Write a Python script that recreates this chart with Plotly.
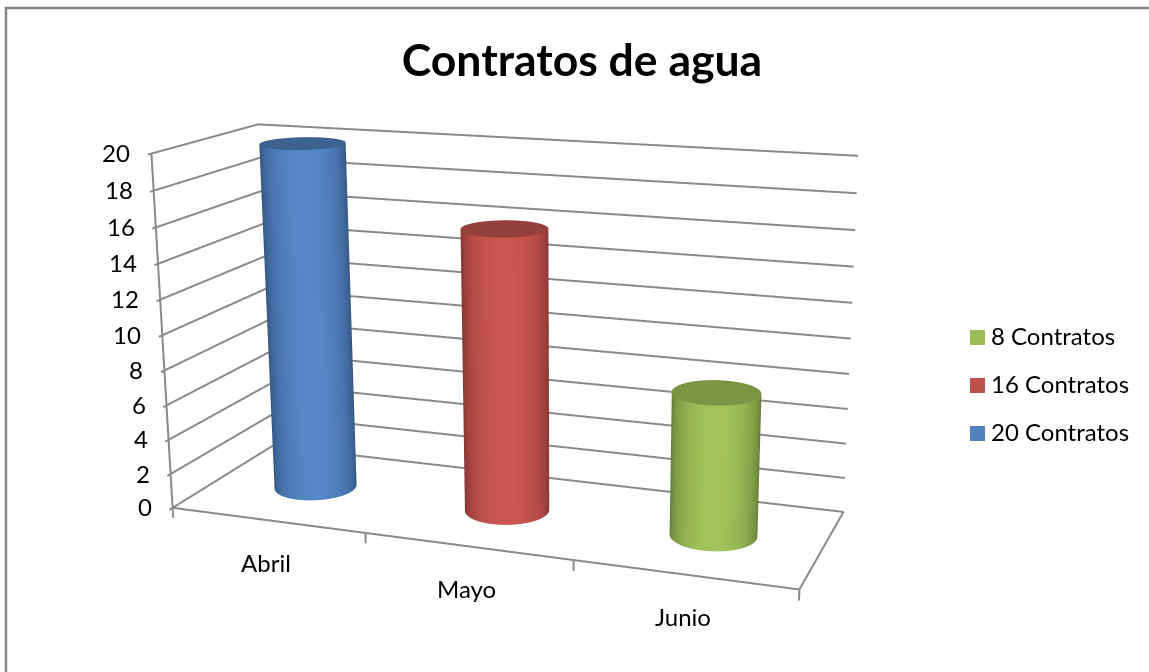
import numpy as np
import plotly.graph_objects as go

CATEGORIES = ["Abril", "Mayo", "Junio"]
VALUES = [20, 16, 8]
SERIES = ["20 Contratos", "16 Contratos", "8 Contratos"]
Z_TICKS = list(range(0, 21, 2))
W, H = 1149, 672

# camera of the 3-D scene (narrow lens like the original chart)
FOCAL = 1793.0
FOVY = 2*np.arctan((H/2)/FOCAL)
EYE = np.array([1.028, -2.642, 0.75])
CEN = np.array([0.091, 0.082, -0.011])
UP = np.array([0.11, -0.322, 1.0])
LX, LY, LZ = 1.070, 0.350, 0.6

xr, yr, zr = (-0.1, 3.1), (-0.15, 1.05), (-2.5, 21)
sx, sy, sz = LX/3, LY, LZ/20
off = np.array([(1.5-sum(xr)/2)*sx, (0.5-sum(yr)/2)*sy, (10-sum(zr)/2)*sz])
eye, cen = EYE+off, CEN+off

GRID = "#8a8a8a"
COLORS = [("#2f4d75", "#5587c9", "#3c628f"), ("#7a302e", "#cc5652", "#96403d"), ("#5b7233", "#a0c45a", "#7b9544")]
LEG = ["#4f81bd", "#c0504d", "#9bbb59"]

fig = go.Figure()
def line(xs, ys, zs):
    fig.add_trace(go.Scatter3d(x=xs, y=ys, z=zs, mode="lines", line=dict(color=GRID, width=4),
                               hoverinfo="skip", showlegend=False))
for t in Z_TICKS:
    line([0, 0, 3], [-0.03, 1, 1], [t, t, t])
line([0, 0], [0, 0], [0, 20])
line([0, 3, 3], [0, 0, 1], [0, 0, 0])
line([0, 0], [0, 1], [0, 0])
for i in range(4):
    line([i, i], [0, 0], [0, -0.6])

RX = 0.198
theta = np.linspace(0, 2*np.pi, 121)
flat = dict(ambient=1, diffuse=0, specular=0, roughness=1, fresnel=0)
for i, (cat, v, name) in enumerate(zip(CATEGORIES, VALUES, SERIES)):
    dark, bright, cap = COLORS[i]
    xc, yc = i+0.5, 0.5
    wx = (xc-1.5)*sx; wy = (yc-.5)*sy
    az = np.arctan2(EYE[1]-wy, EYE[0]-wx)
    ry = RX*sx/sy
    X = np.array([xc+RX*np.cos(theta)]*2)
    Y = np.array([yc+ry*np.sin(theta)]*2)
    Z = np.array([np.zeros_like(theta), np.full_like(theta, v)])
    S = np.clip(np.cos(theta-az), 0, 1)
    fig.add_trace(go.Surface(x=X, y=Y, z=Z, surfacecolor=np.array([S, S]), cmin=0, cmax=1,
        colorscale=[[0, dark], [1, bright]], showscale=False, hoverinfo="skip", name=name, lighting=flat))
    R = np.linspace(0, 1, 2)
    fig.add_trace(go.Surface(x=xc+RX*np.outer(R, np.cos(theta)), y=yc+ry*np.outer(R, np.sin(theta)),
        z=np.full((2, len(theta)), v), surfacecolor=np.zeros((2, len(theta))), cmin=0, cmax=1,
        colorscale=[[0, cap], [1, cap]], showscale=False, hoverinfo="skip", lighting=flat))

ann = []
FONT = "Lato"
for t in Z_TICKS:
    ann.append(dict(x=0, y=0, z=t, text=str(t), showarrow=False, xanchor="right", xshift=-19, yshift=1,
                    font=dict(family=FONT, size=24, color="#000")))
for i, c in enumerate(CATEGORIES):
    ann.append(dict(x=i+0.5, y=0, z=0, text=c, showarrow=False, xshift=-1, yshift=-42,
                    font=dict(family=FONT, size=24, color="#000")))

paper_ann = []
shapes = [dict(type="path", xref="paper", yref="paper",
               path="M 0.0052 0 L 0.0052 0.988 L 1 0.988", line=dict(color="#868686", width=2.5))]
for j, i in enumerate([2, 1, 0]):
    ypx = 337+48*j
    shapes.append(dict(type="rect", xref="paper", yref="paper", x0=970/W, x1=985/W,
                       y0=1-(ypx+8)/H, y1=1-(ypx-7)/H, fillcolor=LEG[i], line=dict(width=0)))
    paper_ann.append(dict(xref="paper", yref="paper", x=989/W, y=1-(ypx-2)/H, text=SERIES[i], showarrow=False,
                          xanchor="left", yanchor="middle", font=dict(family=FONT, size=24, color="#000")))

ax = dict(visible=False, showgrid=False, zeroline=False, showspikes=False)
fig.update_layout(
    width=W, height=H, margin=dict(l=0, r=0, t=0, b=0), paper_bgcolor="white", showlegend=False,
    title=dict(text="<b>Contratos de agua</b>", x=582/W, xanchor="center", y=1-60/H, yanchor="middle",
               font=dict(family=FONT, size=44.5, color="#000")),
    shapes=shapes, annotations=paper_ann,
    scene=dict(domain=dict(x=[0, 1], y=[0, 1]), bgcolor="rgba(0,0,0,0)",
        xaxis=dict(range=xr, **ax), yaxis=dict(range=yr, **ax), zaxis=dict(range=zr, **ax),
        aspectmode="manual",
        aspectratio=dict(x=(xr[1]-xr[0])*sx, y=(yr[1]-yr[0])*sy, z=(zr[1]-zr[0])*sz),
        camera=dict(eye=dict(x=eye[0], y=eye[1], z=eye[2]), center=dict(x=cen[0], y=cen[1], z=cen[2]),
                    up=dict(x=UP[0], y=UP[1], z=UP[2]), projection=dict(type="perspective")),
        annotations=ann),
)
post = """
document.body.style.margin='0';
var gd=document.getElementById('{plot_id}');
var g=gd._fullLayout.scene._scene.glplot;
g.fovy=%f;
g.redraw();
""" % FOVY
fig.write_html("out.html", post_script=post, config=dict(displayModeBar=False))
